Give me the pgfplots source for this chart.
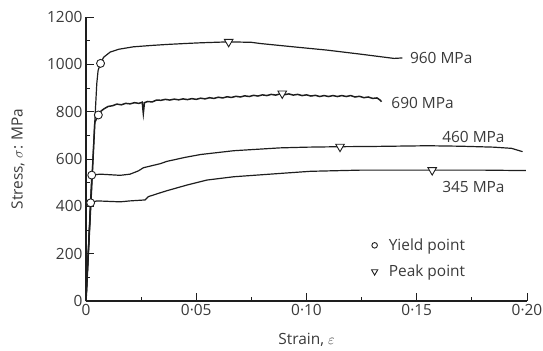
\documentclass[border=0pt]{standalone}
\usepackage{pgfplots}
\pgfplotsset{compat=1.18}
\usepackage{fontspec}
\setmainfont{Open Sans}
\definecolor{ink}{HTML}{1E1E1E}
\definecolor{txt}{HTML}{3A3A3A}
\newcommand{\fs}{\fontsize{15.5}{18}\selectfont}
\pgfplotsset{markleg/.style={legend image code/.code={\path (0,0) (18bp,0); \draw[##1] plot coordinates {(6bp,0)};}}}
\begin{document}
\begin{tikzpicture}
\useasboundingbox (-86bp,-50bp) rectangle (457bp,301bp);
\begin{axis}[
  at={(0,0)}, anchor=south west,
  scale only axis, width=441bp, height=284bp,
  xmin=0, xmax=0.2, ymin=0, ymax=1200,
  axis x line=bottom, axis y line=left,
  axis line style={-, line width=1.1pt, color=ink},
  tick align=inside,
  major tick length=8bp, minor tick length=4.5bp,
  every tick/.style={line width=1pt, color=ink},
  xtick={0,0.05,0.1,0.15,0.2},
  xticklabels={0,0·05,0·10,0·15,0·20},
  ytick={0,200,400,600,800,1000,1200},
  minor x tick num=1, minor y tick num=1,
  /pgf/number format/assume math mode=true,
  /pgf/number format/1000 sep={},
  scaled x ticks=false,
  tick label style={font=\fs, color=txt},
  xlabel={Strain, $\varepsilon$},
  ylabel={Stress, $\sigma$: MPa},
  label style={font=\fs, color=txt},
  xlabel style={at={(axis description cs:0.5,-0.137)}, anchor=center},
  ylabel style={at={(axis description cs:-0.154,0.5)}, anchor=center},
  clip=false,
  legend style={draw=none, fill=none, font=\fs, text=txt, at={(axis description cs:0.64,0.227)}, anchor=north west, row sep=9bp, inner sep=0pt},
  legend cell align=left,
]
% 960 MPa
\addplot[ink, line width=1.2pt, forget plot] coordinates {
(0,0) (0.0041,779) (0.0049,920) (0.0055,975) (0.0066,1004) (0.008,1030) (0.011,1052) (0.015,1064) (0.0215,1074) (0.03,1080) (0.0367,1084) (0.045,1088) (0.052,1091) (0.0647,1095) (0.075,1093) (0.079,1088) (0.094,1074) (0.1094,1060) (0.1245,1043) (0.1397,1025) (0.1435,1027)};
% 690 MPa
\addplot[ink, line width=1.5pt, forget plot] coordinates {
(0,0) (0.0040,755) (0.0056,786) (0.0065,800) (0.008,811) (0.010,822) (0.012,825) (0.014,832) (0.016,829) (0.018,835) (0.020,833) (0.022,838) (0.024,835) (0.0255,840) (0.0260,793) (0.0265,838) (0.028,843) (0.030,841) (0.032,849) (0.034,848) (0.036,852) (0.038,849) (0.040,853) (0.042,850) (0.044,854) (0.046,851) (0.048,855) (0.050,852) (0.052,857) (0.054,854) (0.056,859) (0.058,856) (0.060,861) (0.062,858) (0.064,863) (0.066,860) (0.068,865) (0.070,862) (0.072,867) (0.074,864) (0.076,869) (0.078,866) (0.080,871) (0.082,868) (0.084,873) (0.086,870) (0.088,875) (0.090,872) (0.092,875) (0.094,870) (0.096,873) (0.098,868) (0.100,871) (0.102,866) (0.104,869) (0.106,864) (0.108,868) (0.110,864) (0.112,868) (0.114,864) (0.116,868) (0.118,864) (0.120,868) (0.122,862) (0.124,865) (0.126,859) (0.128,862) (0.130,856) (0.132,858) (0.1335,848) (0.134,842)};
% 460 MPa
\addplot[ink, line width=1.2pt, forget plot] coordinates {
(0,0) (0.0026,532) (0.0064,536) (0.0155,531) (0.02,536) (0.0238,550) (0.026,563) (0.030,572) (0.0336,580) (0.0367,590) (0.045,607) (0.052,619) (0.067,635) (0.088,647) (0.1,650) (0.1152,652) (0.13,653) (0.155,656) (0.17,654) (0.185,650) (0.193,645) (0.198,631)};
% 345 MPa
\addplot[ink, line width=1.2pt, forget plot] coordinates {
(0,0) (0.0021,415) (0.0049,423) (0.0155,419) (0.02,423) (0.0268,427) (0.0283,441) (0.0336,457) (0.0367,466) (0.0458,490) (0.0548,511) (0.067,525) (0.088,539) (0.1018,548) (0.1245,553) (0.157,553) (0.18,553) (0.1995,551)};
% yield points
\addplot[only marks, mark=*, mark size=4pt, mark options={fill=white, draw=ink, line width=0.9pt}, forget plot] coordinates {
(0.0066,1004) (0.0056,786) (0.0026,532) (0.0021,415)};
% peak points
\addplot[only marks, mark=triangle*, mark size=5pt, mark options={rotate=180, fill=white, draw=ink, line width=0.9pt}, forget plot] coordinates {
(0.0647,1095) (0.089,877) (0.1152,652) (0.157,553)};
% legend
\addlegendimage{markleg, only marks, mark=o, mark size=2.8pt, mark options={draw=ink, line width=0.9pt}}
\addlegendentry{Yield point}
\addlegendimage{markleg, only marks, mark=triangle, mark size=3.6pt, mark options={rotate=180, draw=ink, line width=0.9pt}}
\addlegendentry{Peak point}
% curve labels
\node[anchor=west, font=\fs, text=txt, inner sep=1bp] at (axis cs:0.1464,1027) {960 MPa};
\node[anchor=west, font=\fs, text=txt, inner sep=1bp] at (axis cs:0.138,835) {690 MPa};
\node[anchor=center, font=\fs, text=txt, inner sep=1bp] at (axis cs:0.1757,691) {460 MPa};
\node[anchor=center, font=\fs, text=txt, inner sep=1bp] at (axis cs:0.1757,483) {345 MPa};
\end{axis}
\end{tikzpicture}
\end{document}
